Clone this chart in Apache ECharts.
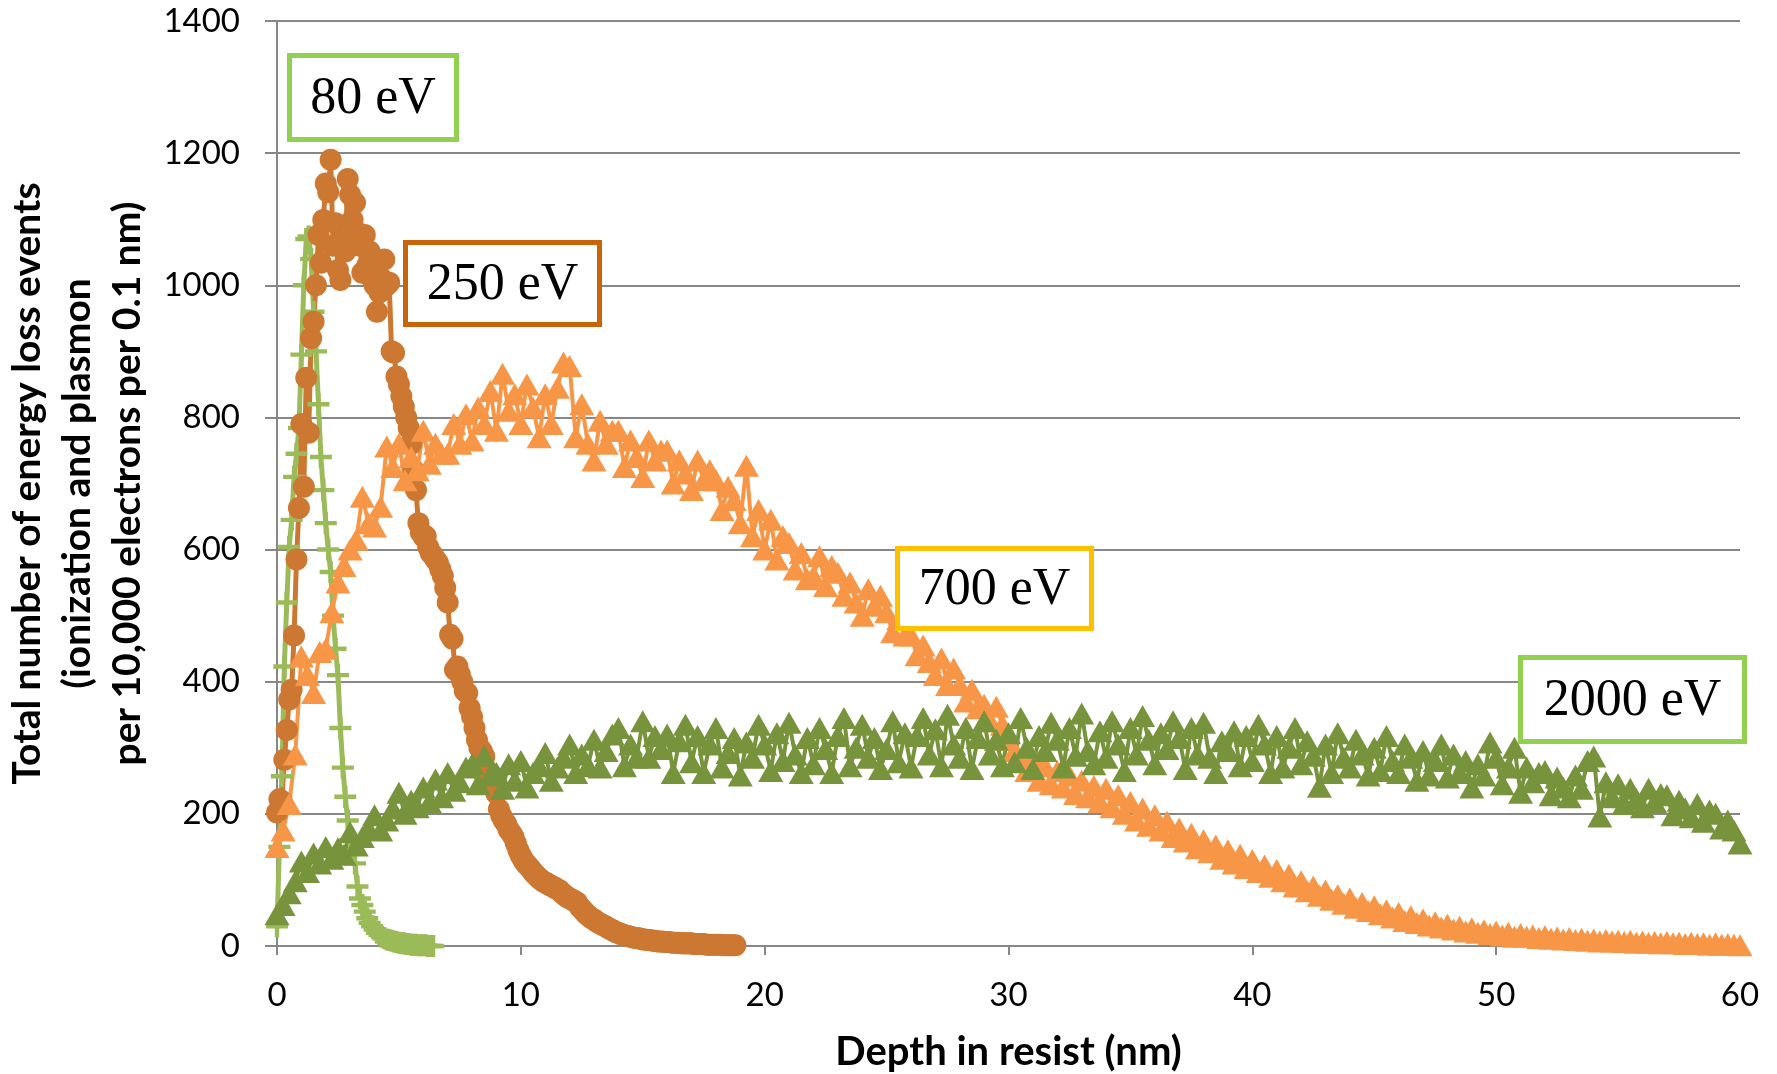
<!DOCTYPE html>
<html>
<head>
<meta charset="utf-8">
<script src="https://cdn.jsdelivr.net/npm/echarts@6/dist/echarts.min.js"></script>
<style>
  html, body { margin: 0; padding: 0; background: #fff; }
  #chart { width: 1777px; height: 1074px; }
</style>
</head>
<body>
<div id="chart"></div>
<script>
// depth step (nm) between points of each curve
var step80 = 0.1;
var step250 = 0.1;
var step700 = 0.25;
var step2000 = 0.25;

// energy loss events per 10,000 electrons per 0.1 nm
var e80 = [30,150,257,423,520,604,645,710,745,784,
  895,1000,1070,1074,1040,960,900,820,740,690,
  640,600,566,500,450,410,330,270,226,190,
  160,140,125,90,72,62,52,42,35,30,
  25,20,17,14,12,10,9,8,7,6,
  5,4,4,3,3,2,2,2,1,1,
  1,1,0,0,0];

var e250 = [202,222,219,282,327,373,388,470,585,663,
  790,695,860,777,920,945,1000,1076,1034,1099,
  1154,1141,1190,1060,1094,1023,1008,1066,1051,1161,
  1137,1099,1125,1080,1060,1019,1076,1030,1051,1010,
  1000,960,989,1010,1039,1000,1004,900,898,862,
  850,832,816,800,784,760,720,690,640,626,
  620,620,604,595,591,585,580,570,560,542,
  520,471,465,418,423,411,400,386,383,360,
  347,330,312,300,295,287,266,255,250,240,
  231,207,197,190,185,176,171,165,155,145,
  137,130,125,121,117,112,108,104,101,98,
  96,94,92,90,88,86,84,80,77,74,
  72,70,68,66,60,56,52,48,45,42,
  40,37,35,33,31,29,27,25,23,21,
  20,18,17,16,15,14,13,12,12,11,
  10,10,9,9,8,8,7,7,7,6,
  6,6,5,5,5,5,4,4,4,4,
  4,3,3,3,3,3,2,2,2,2,
  2,2,2,1,1,1,1,1,1];

var e700 = [150,175,215,290, 438,410,383,445, 450,505,550,575, 600,615,680,640,
  635,665,756,725, 760,705,740,720, 780,730,760,745, 745,790,760,805,
  765,815,790,840, 780,866,810,835, 790,850,815,770, 835,790,845,883,
  878,770,820,760, 735,795,760,780, 780,725,765,740, 710,765,735,750,
  750,700,735,715, 690,735,705,720, 705,660,695,675, 640,727,620,660,
  600,645,585,620, 610,570,595,555, 560,590,545,575, 565,530,550,520,
  500,540,515,530, 505,475,495,470, 470,440,455,430, 410,435,395,420,
  395,370,388,360, 365,340,362,335, 312,295,280,265, 285,250,272,245,
  265,240,258,230, 250,225,242,218, 238,210,228,200, 218,190,208,182,
  198,175,188,165, 178,158,170,148, 160,142,152,132, 145,125,138,118,
  130,112,122,105, 115,98,108,90, 98,83,90,76, 84,70,77,64,
  72,58,65,53, 60,48,54,43, 50,38,45,35, 40,31,36,28,
  32,25,29,22, 27,20,24,18, 22,16,20,14, 18,14,16,12,
  15,11,13,10, 12,9,11,8, 10,7,9,7, 8,6,8,5,
  7,5,6,4, 6,4,5,3, 5,3,4,2, 4,2,3,2,
  1];

var e2000 = [48,62,80,98, 128,112,140,125, 150,132,148,138, 172,152,165,178,
  198,175,190,208, 232,200,220,210, 240,218,252,225, 262,235,248,270,
  275,245,288,258, 262,238,275,250, 280,240,262,272, 292,250,270,285,
  305,262,290,272, 312,270,295,320, 330,272,305,285, 340,285,318,298,
  320,262,310,335, 278,318,262,305, 330,270,292,315, 258,308,285,335,
  305,265,322,280, 338,290,262,315, 275,330,298,262, 318,345,272,300,
  335,285,315,268, 298,340,278,322, 270,318,345,290, 328,272,350,305,
  285,330,268,315, 340,290,312,272, 322,278,345,300, 268,318,295,338,
  312,270,330,288, 352,295,275,325, 285,340,305,265, 330,290,348,312,
  275,322,298,340, 315,268,330,290, 338,285,262,310, 295,325,272,318,
  280,335,305,262, 318,270,300,330, 275,310,288,241, 305,262,322,285,
  270,312,290,258, 300,265,318,280, 262,305,285,250, 295,258,280,305,
  255,290,262,280, 240,275,258,308, 285,245,270,300, 232,270,248,262,
  265,228,255,240, 225,258,238,280, 287,196,248,225, 245,215,238,222,
  210,238,218,230, 228,198,220,208, 195,215,188,205, 200,178,190,175,
  155];

var xTicks = [0, 10, 20, 30, 40, 50, 60];
var yTicks = [0, 200, 400, 600, 800, 1000, 1200, 1400];

var c80 = '#9BBB59';
var c250 = '#CC7833';
var c700 = '#F79646';
var c2000 = '#77933C';

function pairs(step, vals) {
  return vals.map(function (v, i) { return [+(i * step).toFixed(2), v]; });
}

var plus = 'path://M0,8H20V12H0Z M8,0H12V20H8Z';
var tickFont = 'Lato';

function box(x, y, w, h, color, label) {
  return [
    { type: 'rect', z: 100, shape: { x: x, y: y, width: w, height: h },
      style: { fill: '#fff', stroke: color, lineWidth: 5 } },
    { type: 'text', z: 101, x: x + w / 2, y: y + h / 2 + 2,
      style: { text: label, fill: '#000', fontSize: 52, fontFamily: 'Liberation Serif',
        align: 'center', verticalAlign: 'middle' } }
  ];
}

var option = {
  animation: false,
  backgroundColor: '#fff',
  grid: { left: 277, right: 37, top: 21, bottom: 128, containLabel: false, outerBoundsMode: 'none' },
  xAxis: {
    type: 'value',
    min: xTicks[0], max: xTicks[xTicks.length - 1], interval: 10,
    name: 'Depth in resist (nm)',
    nameLocation: 'middle',
    nameGap: 86,
    nameTextStyle: { fontSize: 40, fontWeight: 'bold', fontFamily: tickFont, color: '#000' },
    axisLine: { lineStyle: { color: '#878787', width: 2 } },
    axisTick: { show: true, length: 9, lineStyle: { color: '#878787', width: 2 } },
    axisLabel: { fontSize: 33, fontFamily: tickFont, color: '#000', margin: 33,
      formatter: function (v) { return String(v); } },
    splitLine: { show: false }
  },
  yAxis: {
    type: 'value',
    min: yTicks[0], max: yTicks[yTicks.length - 1], interval: 200,
    name: 'Total number of energy loss events\n(ionization and plasmon\nper 10,000 electrons per 0.1 nm)',
    nameLocation: 'middle',
    nameGap: 97,
    nameTextStyle: { fontSize: 39, fontWeight: 'bold', fontFamily: tickFont, color: '#000', lineHeight: 50 },
    axisLine: { show: true, lineStyle: { color: '#878787', width: 2 } },
    axisTick: { show: true, length: 12, lineStyle: { color: '#878787', width: 2 } },
    axisLabel: { fontSize: 33, fontFamily: tickFont, color: '#000', margin: 37,
      formatter: function (v) { return String(v); } },
    splitLine: { show: true, lineStyle: { color: '#878787', width: 2 } }
  },
  series: [
    { name: '80 eV', type: 'line', data: pairs(step80, e80),
      symbol: plus, symbolSize: 22,
      lineStyle: { color: c80, width: 5 }, itemStyle: { color: c80 } },
    { name: '250 eV', type: 'line', data: pairs(step250, e250),
      symbol: 'circle', symbolSize: 22,
      lineStyle: { color: c250, width: 5 }, itemStyle: { color: c250 } },
    { name: '700 eV', type: 'line', data: pairs(step700, e700),
      symbol: 'triangle', symbolSize: [25, 22],
      lineStyle: { color: c700, width: 4 }, itemStyle: { color: c700 } },
    { name: '2000 eV', type: 'line', data: pairs(step2000, e2000),
      symbol: 'triangle', symbolSize: [25, 22],
      lineStyle: { color: c2000, width: 4 }, itemStyle: { color: c2000 } }
  ],
  graphic: { elements: [].concat(
    box(289.5, 55.5, 167, 84, '#92D050', '80 eV'),
    box(405.5, 242.5, 194, 82, '#C8650A', '250 eV'),
    box(897.5, 548.5, 194, 80, '#FFC000', '700 eV'),
    box(1520.5, 657.5, 224, 84, '#92D050', '2000 eV')
  ) }
};

var myChart = echarts.init(document.getElementById('chart'));
myChart.setOption(option);
window.addEventListener('resize', function () {
  myChart.resize();
});
</script>
</body>
</html>
